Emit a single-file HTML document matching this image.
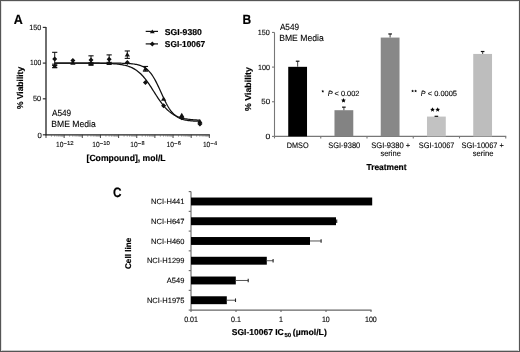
<!DOCTYPE html>
<html><head><meta charset="utf-8"><style>
html,body{margin:0;padding:0;background:#fff;overflow:hidden;}
svg{display:block;will-change:transform;}
text{font-family:"Liberation Sans",sans-serif;text-rendering:geometricPrecision;stroke:#000;stroke-width:0.1px;}
text[font-weight="bold"]{stroke:#000;stroke-width:0.18px;}
</style></head><body>
<svg width="520" height="352" viewBox="0 0 520 352">
<rect x="0" y="0" width="520" height="352" fill="#fff"/>
<line x1="0" y1="350.5" x2="520" y2="350.5" stroke="#c8c8c8" stroke-width="1"/>
<line x1="0" y1="1.5" x2="520" y2="1.5" stroke="#e4e4e4" stroke-width="1"/>
<line x1="1.5" y1="0" x2="1.5" y2="352" stroke="#e4e4e4" stroke-width="1"/>
<line x1="518.5" y1="0" x2="518.5" y2="352" stroke="#eee" stroke-width="1"/>
<rect x="0.5" y="0.5" width="519" height="351" fill="none" stroke="#555" stroke-width="1"/>

<text x="13.79" y="23.60" font-size="13.5" font-weight="bold" textLength="9.04" lengthAdjust="spacingAndGlyphs" fill="#000">A</text>
<text x="242.40" y="23.60" font-size="13.5" font-weight="bold" textLength="8.64" lengthAdjust="spacingAndGlyphs" fill="#000">B</text>
<text x="112.92" y="197.30" font-size="13.5" font-weight="bold" textLength="8.50" lengthAdjust="spacingAndGlyphs" fill="#000">C</text>
<line x1="46.0" y1="26.900000000000006" x2="46.0" y2="135.3" stroke="#333" stroke-width="1.4"/>
<line x1="45.5" y1="134.8" x2="209.85" y2="134.8" stroke="#222" stroke-width="1.2"/>
<g stroke="#333" stroke-width="1.2" fill="none">
<line x1="42.8" y1="134.80" x2="46.0" y2="134.80"/>
<line x1="42.8" y1="98.80" x2="46.0" y2="98.80"/>
<line x1="42.8" y1="63.10" x2="46.0" y2="63.10"/>
<line x1="42.8" y1="27.40" x2="46.0" y2="27.40"/>
</g>
<g stroke="#333" stroke-width="0.9" fill="none">
<line x1="46.00" y1="134.8" x2="46.00" y2="138.0"/>
<line x1="64.15" y1="134.8" x2="64.15" y2="138.0"/>
<line x1="82.30" y1="134.8" x2="82.30" y2="138.0"/>
<line x1="100.45" y1="134.8" x2="100.45" y2="138.0"/>
<line x1="118.60" y1="134.8" x2="118.60" y2="138.0"/>
<line x1="136.75" y1="134.8" x2="136.75" y2="138.0"/>
<line x1="154.90" y1="134.8" x2="154.90" y2="138.0"/>
<line x1="173.05" y1="134.8" x2="173.05" y2="138.0"/>
<line x1="191.20" y1="134.8" x2="191.20" y2="138.0"/>
<line x1="209.35" y1="134.8" x2="209.35" y2="138.0"/>
</g><g stroke="#666" stroke-width="0.7" fill="none">
<line x1="51.46" y1="134.8" x2="51.46" y2="136.60000000000002"/>
<line x1="54.66" y1="134.8" x2="54.66" y2="136.60000000000002"/>
<line x1="56.93" y1="134.8" x2="56.93" y2="136.60000000000002"/>
<line x1="58.69" y1="134.8" x2="58.69" y2="136.60000000000002"/>
<line x1="60.12" y1="134.8" x2="60.12" y2="136.60000000000002"/>
<line x1="61.34" y1="134.8" x2="61.34" y2="136.60000000000002"/>
<line x1="62.39" y1="134.8" x2="62.39" y2="136.60000000000002"/>
<line x1="63.32" y1="134.8" x2="63.32" y2="136.60000000000002"/>
<line x1="69.61" y1="134.8" x2="69.61" y2="136.60000000000002"/>
<line x1="72.81" y1="134.8" x2="72.81" y2="136.60000000000002"/>
<line x1="75.08" y1="134.8" x2="75.08" y2="136.60000000000002"/>
<line x1="76.84" y1="134.8" x2="76.84" y2="136.60000000000002"/>
<line x1="78.27" y1="134.8" x2="78.27" y2="136.60000000000002"/>
<line x1="79.49" y1="134.8" x2="79.49" y2="136.60000000000002"/>
<line x1="80.54" y1="134.8" x2="80.54" y2="136.60000000000002"/>
<line x1="81.47" y1="134.8" x2="81.47" y2="136.60000000000002"/>
<line x1="87.76" y1="134.8" x2="87.76" y2="136.60000000000002"/>
<line x1="90.96" y1="134.8" x2="90.96" y2="136.60000000000002"/>
<line x1="93.23" y1="134.8" x2="93.23" y2="136.60000000000002"/>
<line x1="94.99" y1="134.8" x2="94.99" y2="136.60000000000002"/>
<line x1="96.42" y1="134.8" x2="96.42" y2="136.60000000000002"/>
<line x1="97.64" y1="134.8" x2="97.64" y2="136.60000000000002"/>
<line x1="98.69" y1="134.8" x2="98.69" y2="136.60000000000002"/>
<line x1="99.62" y1="134.8" x2="99.62" y2="136.60000000000002"/>
<line x1="105.91" y1="134.8" x2="105.91" y2="136.60000000000002"/>
<line x1="109.11" y1="134.8" x2="109.11" y2="136.60000000000002"/>
<line x1="111.38" y1="134.8" x2="111.38" y2="136.60000000000002"/>
<line x1="113.14" y1="134.8" x2="113.14" y2="136.60000000000002"/>
<line x1="114.57" y1="134.8" x2="114.57" y2="136.60000000000002"/>
<line x1="115.79" y1="134.8" x2="115.79" y2="136.60000000000002"/>
<line x1="116.84" y1="134.8" x2="116.84" y2="136.60000000000002"/>
<line x1="117.77" y1="134.8" x2="117.77" y2="136.60000000000002"/>
<line x1="124.06" y1="134.8" x2="124.06" y2="136.60000000000002"/>
<line x1="127.26" y1="134.8" x2="127.26" y2="136.60000000000002"/>
<line x1="129.53" y1="134.8" x2="129.53" y2="136.60000000000002"/>
<line x1="131.29" y1="134.8" x2="131.29" y2="136.60000000000002"/>
<line x1="132.72" y1="134.8" x2="132.72" y2="136.60000000000002"/>
<line x1="133.94" y1="134.8" x2="133.94" y2="136.60000000000002"/>
<line x1="134.99" y1="134.8" x2="134.99" y2="136.60000000000002"/>
<line x1="135.92" y1="134.8" x2="135.92" y2="136.60000000000002"/>
<line x1="142.21" y1="134.8" x2="142.21" y2="136.60000000000002"/>
<line x1="145.41" y1="134.8" x2="145.41" y2="136.60000000000002"/>
<line x1="147.68" y1="134.8" x2="147.68" y2="136.60000000000002"/>
<line x1="149.44" y1="134.8" x2="149.44" y2="136.60000000000002"/>
<line x1="150.87" y1="134.8" x2="150.87" y2="136.60000000000002"/>
<line x1="152.09" y1="134.8" x2="152.09" y2="136.60000000000002"/>
<line x1="153.14" y1="134.8" x2="153.14" y2="136.60000000000002"/>
<line x1="154.07" y1="134.8" x2="154.07" y2="136.60000000000002"/>
<line x1="160.36" y1="134.8" x2="160.36" y2="136.60000000000002"/>
<line x1="163.56" y1="134.8" x2="163.56" y2="136.60000000000002"/>
<line x1="165.83" y1="134.8" x2="165.83" y2="136.60000000000002"/>
<line x1="167.59" y1="134.8" x2="167.59" y2="136.60000000000002"/>
<line x1="169.02" y1="134.8" x2="169.02" y2="136.60000000000002"/>
<line x1="170.24" y1="134.8" x2="170.24" y2="136.60000000000002"/>
<line x1="171.29" y1="134.8" x2="171.29" y2="136.60000000000002"/>
<line x1="172.22" y1="134.8" x2="172.22" y2="136.60000000000002"/>
<line x1="178.51" y1="134.8" x2="178.51" y2="136.60000000000002"/>
<line x1="181.71" y1="134.8" x2="181.71" y2="136.60000000000002"/>
<line x1="183.98" y1="134.8" x2="183.98" y2="136.60000000000002"/>
<line x1="185.74" y1="134.8" x2="185.74" y2="136.60000000000002"/>
<line x1="187.17" y1="134.8" x2="187.17" y2="136.60000000000002"/>
<line x1="188.39" y1="134.8" x2="188.39" y2="136.60000000000002"/>
<line x1="189.44" y1="134.8" x2="189.44" y2="136.60000000000002"/>
<line x1="190.37" y1="134.8" x2="190.37" y2="136.60000000000002"/>
<line x1="196.66" y1="134.8" x2="196.66" y2="136.60000000000002"/>
<line x1="199.86" y1="134.8" x2="199.86" y2="136.60000000000002"/>
<line x1="202.13" y1="134.8" x2="202.13" y2="136.60000000000002"/>
<line x1="203.89" y1="134.8" x2="203.89" y2="136.60000000000002"/>
<line x1="205.32" y1="134.8" x2="205.32" y2="136.60000000000002"/>
<line x1="206.54" y1="134.8" x2="206.54" y2="136.60000000000002"/>
<line x1="207.59" y1="134.8" x2="207.59" y2="136.60000000000002"/>
<line x1="208.52" y1="134.8" x2="208.52" y2="136.60000000000002"/>
</g>
<text x="29.25" y="29.60" font-size="7.6" textLength="12.03" lengthAdjust="spacingAndGlyphs" fill="#000">150</text>
<text x="29.89" y="65.30" font-size="7.6" textLength="11.28" lengthAdjust="spacingAndGlyphs" fill="#000">100</text>
<text x="33.01" y="101.30" font-size="7.6" textLength="8.08" lengthAdjust="spacingAndGlyphs" fill="#000">50</text>
<text x="37.50" y="137.80" font-size="7.6" textLength="4.30" lengthAdjust="spacingAndGlyphs" fill="#000">0</text>
<text x="56.00" y="147.00" font-size="7.4" textLength="7.36" lengthAdjust="spacingAndGlyphs" fill="#000">10</text>
<line x1="63.60" y1="143.5" x2="66.70" y2="143.5" stroke="#222" stroke-width="0.75"/>
<text x="66.94" y="145.00" font-size="5.6" textLength="6.77" lengthAdjust="spacingAndGlyphs" fill="#000">12</text>
<text x="92.30" y="147.00" font-size="7.4" textLength="7.36" lengthAdjust="spacingAndGlyphs" fill="#000">10</text>
<line x1="99.90" y1="143.5" x2="103.00" y2="143.5" stroke="#222" stroke-width="0.75"/>
<text x="103.24" y="145.00" font-size="5.6" textLength="6.69" lengthAdjust="spacingAndGlyphs" fill="#000">10</text>
<text x="130.30" y="147.00" font-size="7.4" textLength="7.36" lengthAdjust="spacingAndGlyphs" fill="#000">10</text>
<line x1="137.90" y1="143.5" x2="141.00" y2="143.5" stroke="#222" stroke-width="0.75"/>
<text x="141.46" y="145.00" font-size="5.6" textLength="3.08" lengthAdjust="spacingAndGlyphs" fill="#000">8</text>
<text x="166.60" y="147.00" font-size="7.4" textLength="7.36" lengthAdjust="spacingAndGlyphs" fill="#000">10</text>
<line x1="174.20" y1="143.5" x2="177.30" y2="143.5" stroke="#222" stroke-width="0.75"/>
<text x="177.71" y="145.00" font-size="5.6" textLength="3.14" lengthAdjust="spacingAndGlyphs" fill="#000">6</text>
<text x="202.90" y="147.00" font-size="7.4" textLength="7.36" lengthAdjust="spacingAndGlyphs" fill="#000">10</text>
<line x1="210.50" y1="143.5" x2="213.60" y2="143.5" stroke="#222" stroke-width="0.75"/>
<text x="214.18" y="145.00" font-size="5.6" textLength="2.87" lengthAdjust="spacingAndGlyphs" fill="#000">4</text>
<text x="86.52" y="161.40" font-size="9.0" font-weight="bold" textLength="79.05" lengthAdjust="spacingAndGlyphs" fill="#000">[Compound], mol/L</text>
<text transform="translate(22.90,109.11) rotate(-90)" x="0" y="0" font-size="8.6" font-weight="bold" textLength="42.26" lengthAdjust="spacingAndGlyphs" fill="#000">% Viability</text>
<text x="51.98" y="115.90" font-size="9.1" textLength="19.21" lengthAdjust="spacingAndGlyphs" fill="#000">A549</text>
<text x="51.29" y="126.70" font-size="9.1" textLength="44.51" lengthAdjust="spacingAndGlyphs" fill="#000">BME Media</text>
<g stroke="#111" stroke-width="1.2"><line x1="145.7" y1="31.4" x2="158" y2="31.4"/><line x1="145.7" y1="43.9" x2="158" y2="43.9"/></g>
<path d="M152.30,29.40 L154.72,33.36 L149.88,33.36 Z" fill="#111"/>
<path d="M152.30,41.40 L154.80,43.90 L152.30,46.40 L149.80,43.90 Z" fill="#111"/>
<text x="164.85" y="34.80" font-size="8.6" font-weight="bold" textLength="37.01" lengthAdjust="spacingAndGlyphs" fill="#000">SGI-9380</text>
<text x="164.86" y="47.30" font-size="8.6" font-weight="bold" textLength="40.41" lengthAdjust="spacingAndGlyphs" fill="#000">SGI-10067</text>
<polyline fill="none" stroke="#111" stroke-width="1.25" points="54.71,63.10 55.62,63.10 56.53,63.10 57.43,63.10 58.34,63.10 59.25,63.10 60.16,63.10 61.06,63.10 61.97,63.10 62.88,63.10 63.79,63.10 64.69,63.10 65.60,63.10 66.51,63.10 67.42,63.10 68.32,63.10 69.23,63.10 70.14,63.10 71.05,63.10 71.95,63.10 72.86,63.10 73.77,63.10 74.68,63.10 75.58,63.10 76.49,63.10 77.40,63.10 78.31,63.10 79.21,63.10 80.12,63.10 81.03,63.10 81.94,63.10 82.84,63.10 83.75,63.10 84.66,63.10 85.57,63.10 86.47,63.10 87.38,63.10 88.29,63.10 89.20,63.10 90.10,63.10 91.01,63.10 91.92,63.10 92.83,63.10 93.73,63.10 94.64,63.10 95.55,63.10 96.46,63.10 97.36,63.10 98.27,63.10 99.18,63.10 100.09,63.11 100.99,63.11 101.90,63.11 102.81,63.11 103.72,63.11 104.62,63.11 105.53,63.11 106.44,63.11 107.35,63.12 108.25,63.12 109.16,63.12 110.07,63.13 110.98,63.13 111.88,63.13 112.79,63.14 113.70,63.14 114.61,63.15 115.51,63.16 116.42,63.17 117.33,63.18 118.24,63.19 119.14,63.20 120.05,63.21 120.96,63.23 121.87,63.25 122.77,63.27 123.68,63.30 124.59,63.33 125.50,63.36 126.40,63.40 127.31,63.44 128.22,63.50 129.13,63.55 130.03,63.62 130.94,63.70 131.85,63.78 132.76,63.88 133.66,64.00 134.57,64.13 135.48,64.28 136.39,64.45 137.29,64.64 138.20,64.86 139.11,65.12 140.02,65.40 140.92,65.73 141.83,66.10 142.74,66.52 143.65,66.99 144.55,67.52 145.46,68.12 146.37,68.79 147.28,69.54 148.18,70.38 149.09,71.31 150.00,72.33 150.91,73.45 151.81,74.68 152.72,76.02 153.63,77.46 154.54,79.01 155.44,80.66 156.35,82.40 157.26,84.22 158.17,86.11 159.07,88.07 159.98,90.05 160.89,92.07 161.80,94.08 162.70,96.07 163.61,98.03 164.52,99.94 165.43,101.78 166.33,103.54 167.24,105.20 168.15,106.77 169.06,108.24 169.96,109.59 170.87,110.84 171.78,111.99 172.69,113.03 173.59,113.98 174.50,114.83 175.41,115.60 176.32,116.28 177.22,116.90 178.13,117.44 179.04,117.93 179.95,118.36 180.85,118.73 181.76,119.07 182.67,119.36 183.58,119.62 184.48,119.85 185.39,120.05 186.30,120.22 187.21,120.38 188.11,120.51 189.02,120.63 189.93,120.73 190.84,120.82 191.74,120.90 192.65,120.97 193.56,121.03 194.47,121.08 195.37,121.13 196.28,121.16 197.19,121.20 198.10,121.23 199.00,121.26 199.91,121.28"/>
<polyline fill="none" stroke="#111" stroke-width="1.25" points="54.71,63.10 55.62,63.10 56.53,63.10 57.43,63.10 58.34,63.10 59.25,63.10 60.16,63.10 61.06,63.10 61.97,63.10 62.88,63.10 63.79,63.10 64.69,63.10 65.60,63.10 66.51,63.10 67.42,63.10 68.32,63.10 69.23,63.10 70.14,63.11 71.05,63.11 71.95,63.11 72.86,63.11 73.77,63.11 74.68,63.11 75.58,63.11 76.49,63.11 77.40,63.11 78.31,63.11 79.21,63.11 80.12,63.12 81.03,63.12 81.94,63.12 82.84,63.12 83.75,63.12 84.66,63.13 85.57,63.13 86.47,63.13 87.38,63.14 88.29,63.14 89.20,63.14 90.10,63.15 91.01,63.15 91.92,63.16 92.83,63.17 93.73,63.17 94.64,63.18 95.55,63.19 96.46,63.20 97.36,63.21 98.27,63.22 99.18,63.24 100.09,63.25 100.99,63.26 101.90,63.28 102.81,63.30 103.72,63.32 104.62,63.35 105.53,63.37 106.44,63.40 107.35,63.43 108.25,63.47 109.16,63.50 110.07,63.55 110.98,63.59 111.88,63.65 112.79,63.70 113.70,63.76 114.61,63.83 115.51,63.91 116.42,63.99 117.33,64.09 118.24,64.19 119.14,64.30 120.05,64.42 120.96,64.56 121.87,64.71 122.77,64.87 123.68,65.05 124.59,65.25 125.50,65.47 126.40,65.71 127.31,65.97 128.22,66.26 129.13,66.57 130.03,66.91 130.94,67.28 131.85,67.69 132.76,68.13 133.66,68.61 134.57,69.12 135.48,69.69 136.39,70.29 137.29,70.95 138.20,71.65 139.11,72.41 140.02,73.21 140.92,74.07 141.83,74.99 142.74,75.96 143.65,76.99 144.55,78.07 145.46,79.21 146.37,80.39 147.28,81.63 148.18,82.91 149.09,84.22 150.00,85.58 150.91,86.96 151.81,88.37 152.72,89.79 153.63,91.23 154.54,92.67 155.44,94.10 156.35,95.52 157.26,96.92 158.17,98.30 159.07,99.65 159.98,100.96 160.89,102.23 161.80,103.45 162.70,104.63 163.61,105.75 164.52,106.82 165.43,107.84 166.33,108.80 167.24,109.71 168.15,110.56 169.06,111.36 169.96,112.10 170.87,112.79 171.78,113.44 172.69,114.04 173.59,114.59 174.50,115.10 175.41,115.57 176.32,116.00 177.22,116.40 178.13,116.77 179.04,117.10 179.95,117.41 180.85,117.69 181.76,117.95 182.67,118.18 183.58,118.39 184.48,118.59 185.39,118.77 186.30,118.93 187.21,119.07 188.11,119.21 189.02,119.33 189.93,119.44 190.84,119.54 191.74,119.63 192.65,119.71 193.56,119.79 194.47,119.85 195.37,119.92 196.28,119.97 197.19,120.02 198.10,120.07 199.00,120.11 199.91,120.15"/>
<line x1="54.71" y1="64.17" x2="54.71" y2="67.74" stroke="#111" stroke-width="1"/><line x1="52.11" y1="64.17" x2="57.31" y2="64.17" stroke="#111" stroke-width="1.1"/><line x1="52.11" y1="67.74" x2="57.31" y2="67.74" stroke="#111" stroke-width="1.1"/>

<line x1="91.01" y1="62.74" x2="91.01" y2="64.89" stroke="#111" stroke-width="1"/><line x1="88.41" y1="62.74" x2="93.61" y2="62.74" stroke="#111" stroke-width="1.1"/><line x1="88.41" y1="64.89" x2="93.61" y2="64.89" stroke="#111" stroke-width="1.1"/>
<line x1="109.16" y1="62.39" x2="109.16" y2="63.81" stroke="#111" stroke-width="1"/><line x1="106.56" y1="62.39" x2="111.76" y2="62.39" stroke="#111" stroke-width="1.1"/><line x1="106.56" y1="63.81" x2="111.76" y2="63.81" stroke="#111" stroke-width="1.1"/>
<line x1="127.31" y1="50.96" x2="127.31" y2="58.39" stroke="#111" stroke-width="1"/><line x1="124.71" y1="50.96" x2="129.91" y2="50.96" stroke="#111" stroke-width="1.1"/><line x1="124.71" y1="58.39" x2="129.91" y2="58.39" stroke="#111" stroke-width="1.1"/>
<line x1="145.46" y1="66.46" x2="145.46" y2="71.17" stroke="#111" stroke-width="1"/><line x1="142.86" y1="66.46" x2="148.06" y2="66.46" stroke="#111" stroke-width="1.1"/><line x1="142.86" y1="71.17" x2="148.06" y2="71.17" stroke="#111" stroke-width="1.1"/>



<line x1="54.71" y1="52.32" x2="54.71" y2="65.46" stroke="#111" stroke-width="1"/><line x1="52.11" y1="52.32" x2="57.31" y2="52.32" stroke="#111" stroke-width="1.1"/><line x1="52.11" y1="65.46" x2="57.31" y2="65.46" stroke="#111" stroke-width="1.1"/>

<line x1="91.01" y1="55.82" x2="91.01" y2="63.96" stroke="#111" stroke-width="1"/><line x1="88.41" y1="55.82" x2="93.61" y2="55.82" stroke="#111" stroke-width="1.1"/><line x1="88.41" y1="63.96" x2="93.61" y2="63.96" stroke="#111" stroke-width="1.1"/>
<line x1="109.16" y1="54.89" x2="109.16" y2="63.74" stroke="#111" stroke-width="1"/><line x1="106.56" y1="54.89" x2="111.76" y2="54.89" stroke="#111" stroke-width="1.1"/><line x1="106.56" y1="63.74" x2="111.76" y2="63.74" stroke="#111" stroke-width="1.1"/>





<path d="M54.71,63.56 L57.35,67.88 L52.07,67.88 Z" fill="#111"/>
<path d="M72.86,60.34 L75.50,64.66 L70.22,64.66 Z" fill="#111"/>
<path d="M91.01,61.41 L93.65,65.73 L88.37,65.73 Z" fill="#111"/>
<path d="M109.16,60.70 L111.80,65.02 L106.52,65.02 Z" fill="#111"/>
<path d="M127.31,52.27 L129.95,56.59 L124.67,56.59 Z" fill="#111"/>
<path d="M145.46,66.41 L148.10,70.73 L142.82,70.73 Z" fill="#111"/>
<path d="M163.61,96.54 L166.25,100.86 L160.97,100.86 Z" fill="#111"/>
<path d="M181.76,112.82 L184.40,117.14 L179.12,117.14 Z" fill="#111"/>
<path d="M199.91,118.89 L202.55,123.21 L197.27,123.21 Z" fill="#111"/>
<path d="M54.71,56.39 L57.21,58.89 L54.71,61.39 L52.21,58.89 Z" fill="#111"/>
<path d="M72.86,58.03 L75.36,60.53 L72.86,63.03 L70.36,60.53 Z" fill="#111"/>
<path d="M91.01,57.39 L93.51,59.89 L91.01,62.39 L88.51,59.89 Z" fill="#111"/>
<path d="M109.16,56.82 L111.66,59.32 L109.16,61.82 L106.66,59.32 Z" fill="#111"/>
<path d="M127.31,59.89 L129.81,62.39 L127.31,64.89 L124.81,62.39 Z" fill="#111"/>
<path d="M145.46,79.88 L147.96,82.38 L145.46,84.88 L142.96,82.38 Z" fill="#111"/>
<path d="M163.61,103.15 L166.11,105.65 L163.61,108.15 L161.11,105.65 Z" fill="#111"/>
<path d="M181.76,115.36 L184.26,117.86 L181.76,120.36 L179.26,117.86 Z" fill="#111"/>
<path d="M199.91,121.43 L202.41,123.93 L199.91,126.43 L197.41,123.93 Z" fill="#111"/>
<g stroke="#777" stroke-width="1.1" fill="none">
<line x1="274.5" y1="32.45000000000002" x2="274.5" y2="136.4"/>
<line x1="274.5" y1="136.4" x2="506.25" y2="136.4"/>
<line x1="272.0" y1="136.40" x2="274.5" y2="136.40"/>
<line x1="272.0" y1="101.75" x2="274.5" y2="101.75"/>
<line x1="272.0" y1="67.10" x2="274.5" y2="67.10"/>
<line x1="272.0" y1="32.45" x2="274.5" y2="32.45"/>
<line x1="274.50" y1="136.4" x2="274.50" y2="138.4"/>
<line x1="320.75" y1="136.4" x2="320.75" y2="138.4"/>
<line x1="367.00" y1="136.4" x2="367.00" y2="138.4"/>
<line x1="413.25" y1="136.4" x2="413.25" y2="138.4"/>
<line x1="459.50" y1="136.4" x2="459.50" y2="138.4"/>
<line x1="505.75" y1="136.4" x2="505.75" y2="138.4"/>
</g>
<text x="257.65" y="35.40" font-size="7.6" textLength="12.03" lengthAdjust="spacingAndGlyphs" fill="#000">150</text>
<text x="257.96" y="69.60" font-size="7.6" textLength="11.93" lengthAdjust="spacingAndGlyphs" fill="#000">100</text>
<text x="261.38" y="104.20" font-size="7.6" textLength="8.83" lengthAdjust="spacingAndGlyphs" fill="#000">50</text>
<text x="265.47" y="138.50" font-size="7.6" textLength="4.77" lengthAdjust="spacingAndGlyphs" fill="#000">0</text>
<rect x="288.23" y="66.82" width="18.8" height="69.58" fill="#000"/>
<line x1="297.62" y1="61.21" x2="297.62" y2="66.82" stroke="#555" stroke-width="1.1"/>
<line x1="295.82" y1="61.21" x2="299.43" y2="61.21" stroke="#111" stroke-width="1.2"/>
<rect x="334.48" y="110.20" width="18.8" height="26.20" fill="#838383"/>
<line x1="343.88" y1="107.16" x2="343.88" y2="110.20" stroke="#555" stroke-width="1.1"/>
<line x1="342.07" y1="107.16" x2="345.68" y2="107.16" stroke="#111" stroke-width="1.2"/>
<rect x="380.73" y="37.58" width="18.8" height="98.82" fill="#888888"/>
<line x1="390.12" y1="33.97" x2="390.12" y2="37.58" stroke="#555" stroke-width="1.1"/>
<line x1="388.32" y1="33.97" x2="391.93" y2="33.97" stroke="#111" stroke-width="1.2"/>
<rect x="426.98" y="116.58" width="18.8" height="19.82" fill="#c2c2c2"/>
<line x1="436.38" y1="116.30" x2="436.38" y2="116.58" stroke="#555" stroke-width="1.1"/>
<line x1="434.57" y1="116.30" x2="438.18" y2="116.30" stroke="#111" stroke-width="1.2"/>
<rect x="473.23" y="53.93" width="18.8" height="82.47" fill="#bdbdbd"/>
<line x1="482.62" y1="51.51" x2="482.62" y2="53.93" stroke="#555" stroke-width="1.1"/>
<line x1="480.82" y1="51.51" x2="484.43" y2="51.51" stroke="#111" stroke-width="1.2"/>
<text x="286.80" y="147.60" font-size="8.0" textLength="21.85" lengthAdjust="spacingAndGlyphs" fill="#000">DMSO</text>
<text x="328.26" y="147.60" font-size="8.0" textLength="31.94" lengthAdjust="spacingAndGlyphs" fill="#000">SGI-9380</text>
<text x="371.25" y="147.60" font-size="8.0" textLength="39.02" lengthAdjust="spacingAndGlyphs" fill="#000">SGI-9380 +</text>
<text x="380.39" y="155.80" font-size="8.0" textLength="20.54" lengthAdjust="spacingAndGlyphs" fill="#000">serine</text>
<text x="418.76" y="147.60" font-size="8.0" textLength="35.71" lengthAdjust="spacingAndGlyphs" fill="#000">SGI-10067</text>
<text x="461.46" y="147.60" font-size="8.0" textLength="42.41" lengthAdjust="spacingAndGlyphs" fill="#000">SGI-10067 +</text>
<text x="472.69" y="155.80" font-size="8.0" textLength="20.85" lengthAdjust="spacingAndGlyphs" fill="#000">serine</text>
<text x="366.51" y="170.20" font-size="8.6" font-weight="bold" textLength="40.00" lengthAdjust="spacingAndGlyphs" fill="#000">Treatment</text>
<text transform="translate(251.00,111.02) rotate(-90)" x="0" y="0" font-size="8.6" font-weight="bold" textLength="43.97" lengthAdjust="spacingAndGlyphs" fill="#000">% Viability</text>
<text x="279.88" y="30.30" font-size="9.1" textLength="19.21" lengthAdjust="spacingAndGlyphs" fill="#000">A549</text>
<text x="279.19" y="40.90" font-size="9.1" textLength="44.51" lengthAdjust="spacingAndGlyphs" fill="#000">BME Media</text>
<polygon fill="#000" points="322.80,89.70 323.21,90.63 324.23,90.74 323.47,91.42 323.68,92.41 322.80,91.90 321.92,92.41 322.13,91.42 321.37,90.74 322.39,90.63"/>
<text x="327.77" y="95.50" font-size="7.5" font-style="italic" textLength="4.98" lengthAdjust="spacingAndGlyphs" fill="#000">P</text>
<text x="334.54" y="95.50" font-size="7.5" textLength="24.83" lengthAdjust="spacingAndGlyphs" fill="#000">&lt; 0.002</text>
<polygon fill="#000" points="343.50,97.90 344.18,99.57 345.97,99.70 344.59,100.86 345.03,102.60 343.50,101.65 341.97,102.60 342.41,100.86 341.03,99.70 342.82,99.57"/>
<polygon fill="#000" points="412.60,89.60 413.01,90.53 414.03,90.64 413.27,91.32 413.48,92.31 412.60,91.80 411.72,92.31 411.93,91.32 411.17,90.64 412.19,90.53"/>
<polygon fill="#000" points="415.60,89.60 416.01,90.53 417.03,90.64 416.27,91.32 416.48,92.31 415.60,91.80 414.72,92.31 414.93,91.32 414.17,90.64 415.19,90.53"/>
<text x="420.78" y="95.50" font-size="7.5" font-style="italic" textLength="4.76" lengthAdjust="spacingAndGlyphs" fill="#000">P</text>
<text x="427.73" y="95.50" font-size="7.5" textLength="29.28" lengthAdjust="spacingAndGlyphs" fill="#000">&lt; 0.0005</text>
<polygon fill="#000" points="432.50,107.20 433.15,108.81 434.88,108.93 433.55,110.04 433.97,111.72 432.50,110.80 431.03,111.72 431.45,110.04 430.12,108.93 431.85,108.81"/>
<polygon fill="#000" points="437.70,107.20 438.35,108.81 440.08,108.93 438.75,110.04 439.17,111.72 437.70,110.80 436.23,111.72 436.65,110.04 435.32,108.93 437.05,108.81"/>
<g stroke="#666" stroke-width="1.1" fill="none">
<line x1="191.0" y1="191.6" x2="191.0" y2="310.1"/>
<line x1="191.0" y1="310.1" x2="371.5" y2="310.1"/>
<line x1="188.7" y1="191.60" x2="191.0" y2="191.60"/>
<line x1="188.7" y1="211.35" x2="191.0" y2="211.35"/>
<line x1="188.7" y1="231.10" x2="191.0" y2="231.10"/>
<line x1="188.7" y1="250.85" x2="191.0" y2="250.85"/>
<line x1="188.7" y1="270.60" x2="191.0" y2="270.60"/>
<line x1="188.7" y1="290.35" x2="191.0" y2="290.35"/>
<line x1="188.7" y1="310.10" x2="191.0" y2="310.10"/>
<line x1="191.00" y1="310.1" x2="191.00" y2="312.1"/>
<line x1="236.00" y1="310.1" x2="236.00" y2="312.1"/>
<line x1="281.00" y1="310.1" x2="281.00" y2="312.1"/>
<line x1="326.00" y1="310.1" x2="326.00" y2="312.1"/>
<line x1="371.00" y1="310.1" x2="371.00" y2="312.1"/>
</g>
<rect x="191.00" y="197.53" width="181.20" height="7.9" fill="#000"/>
<text x="184.4" y="204.17" font-size="7.5" text-anchor="end" fill="#000">NCI-H441</text>
<rect x="191.00" y="217.28" width="145.00" height="7.9" fill="#000"/>
<line x1="336.00" y1="221.22" x2="336.70" y2="221.22" stroke="#555" stroke-width="1"/>
<line x1="336.70" y1="219.42" x2="336.70" y2="223.03" stroke="#222" stroke-width="1.1"/>
<text x="184.4" y="223.92" font-size="7.5" text-anchor="end" fill="#000">NCI-H647</text>
<rect x="191.00" y="237.03" width="119.00" height="7.9" fill="#000"/>
<line x1="310.00" y1="240.97" x2="321.10" y2="240.97" stroke="#555" stroke-width="1"/>
<line x1="321.10" y1="239.17" x2="321.10" y2="242.78" stroke="#222" stroke-width="1.1"/>
<text x="184.4" y="243.67" font-size="7.5" text-anchor="end" fill="#000">NCI-H460</text>
<rect x="191.00" y="256.78" width="75.80" height="7.9" fill="#000"/>
<line x1="266.80" y1="260.73" x2="273.10" y2="260.73" stroke="#555" stroke-width="1"/>
<line x1="273.10" y1="258.93" x2="273.10" y2="262.53" stroke="#222" stroke-width="1.1"/>
<text x="184.4" y="263.43" font-size="7.5" text-anchor="end" fill="#000">NCI-H1299</text>
<rect x="191.00" y="276.53" width="44.80" height="7.9" fill="#000"/>
<line x1="235.80" y1="280.48" x2="248.20" y2="280.48" stroke="#555" stroke-width="1"/>
<line x1="248.20" y1="278.68" x2="248.20" y2="282.28" stroke="#222" stroke-width="1.1"/>
<text x="184.4" y="283.18" font-size="7.5" text-anchor="end" fill="#000">A549</text>
<rect x="191.00" y="296.28" width="35.80" height="7.9" fill="#000"/>
<line x1="226.80" y1="300.23" x2="235.50" y2="300.23" stroke="#555" stroke-width="1"/>
<line x1="235.50" y1="298.43" x2="235.50" y2="302.03" stroke="#222" stroke-width="1.1"/>
<text x="184.4" y="302.93" font-size="7.5" text-anchor="end" fill="#000">NCI-H1975</text>
<text x="184.13" y="321.70" font-size="7.8" textLength="13.81" lengthAdjust="spacingAndGlyphs" fill="#000">0.01</text>
<text x="231.10" y="321.70" font-size="7.8" textLength="9.87" lengthAdjust="spacingAndGlyphs" fill="#000">0.1</text>
<text x="278.93" y="321.70" font-size="7.8" textLength="3.95" lengthAdjust="spacingAndGlyphs" fill="#000">1</text>
<text x="321.92" y="321.70" font-size="7.8" textLength="7.90" lengthAdjust="spacingAndGlyphs" fill="#000">10</text>
<text x="364.95" y="321.70" font-size="7.8" textLength="11.84" lengthAdjust="spacingAndGlyphs" fill="#000">100</text>
<text transform="translate(130.80,269.03) rotate(-90)" x="0" y="0" font-size="8.3" font-weight="bold" textLength="31.32" lengthAdjust="spacingAndGlyphs" fill="#000">Cell line</text>
<text x="231.85" y="335.40" font-size="8.6" font-weight="bold" textLength="51.88" lengthAdjust="spacingAndGlyphs" fill="#000">SGI-10067 IC</text>
<text x="284.51" y="337.40" font-size="5.8" font-weight="bold" textLength="6.74" lengthAdjust="spacingAndGlyphs" fill="#000">50</text>
<text x="292.87" y="335.40" font-size="8.6" font-weight="bold" textLength="33.97" lengthAdjust="spacingAndGlyphs" fill="#000">(µmol/L)</text>
</svg></body></html>
